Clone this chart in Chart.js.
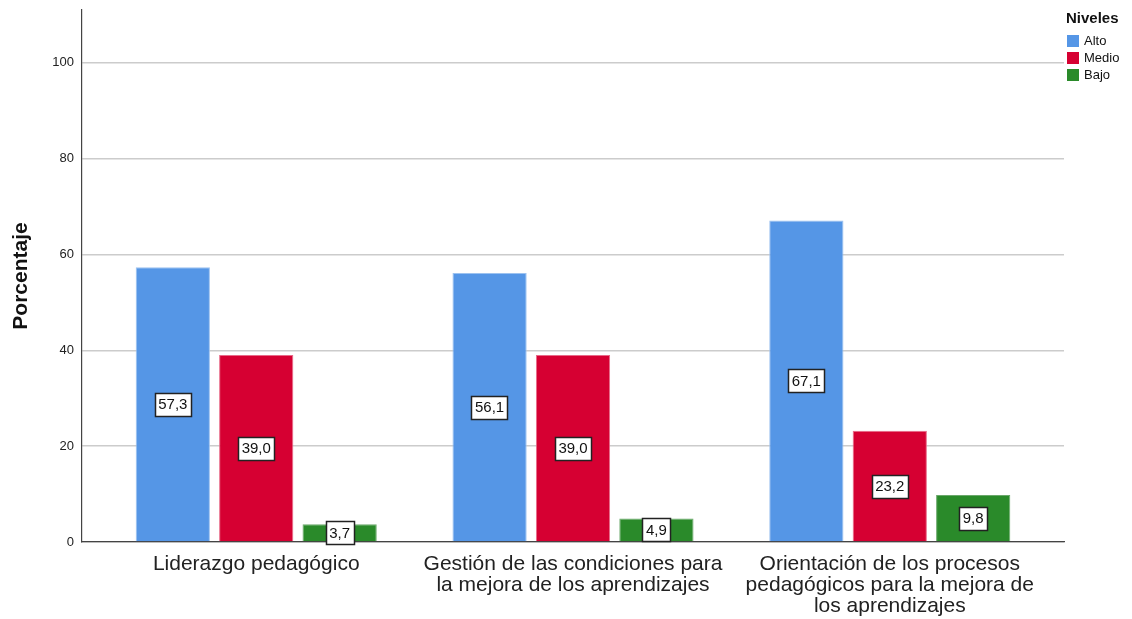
<!DOCTYPE html>
<html>
<head>
<meta charset="utf-8">
<script src="https://cdn.jsdelivr.net/npm/chart.js@4.4.1/dist/chart.umd.min.js"></script>
<style>
  html, body { margin: 0; padding: 0; background: #fff; }
  #wrap { position: relative; width: 1132px; height: 619px; }
  #legend { position: absolute; left: 1066px; top: 9px; font-family: "Liberation Sans", Arial, sans-serif; color: #111; }
  #legend .title { font-weight: bold; font-size: 15px; line-height: 18px; margin-bottom: 5px; }
  #legend .row { display: flex; align-items: center; font-size: 13px; height: 17px; }
  #legend .sw { width: 12px; height: 12px; margin-left: 1px; margin-right: 5px; }
</style>
</head>
<body>
<div id="wrap">
  <canvas id="c" width="1132" height="619"></canvas>
  <div id="legend"></div>
</div>
<script>
const categories = [
  ["Liderazgo pedagógico"],
  ["Gestión de las condiciones para", "la mejora de los aprendizajes"],
  ["Orientación de los procesos", "pedagógicos para la mejora de", "los aprendizajes"]
];
const seriesNames = ["Alto", "Medio", "Bajo"];
const alto  = [57.3, 56.1, 67.1];
const medio = [39.0, 39.0, 23.2];
const bajo  = [3.7, 4.9, 9.8];
const yTicks = [0, 20, 40, 60, 80, 100];
const legendTitle = "Niveles";
const yTitle = "Porcentaje";

const colors = ["#5596e6", "#d60032", "#2a8a2a"];
const borders = ["#9cc2f0", "#e86a88", "#6aa86a"];
const seriesValues = [alto, medio, bajo];

const FONT = '"Liberation Sans", Arial, sans-serif';

const datasets = seriesNames.map((name, i) => ({
  label: name,
  data: seriesValues[i].map((v, k) => ({ x: k, y: v })),
  backgroundColor: colors[i],
  borderColor: borders[i],
  borderWidth: 1,
  categoryPercentage: 0.79,
  barPercentage: 0.89
}));

const labelPlugin = {
  id: 'boxLabels',
  afterDatasetsDraw(chart) {
    const ctx = chart.ctx;
    ctx.save();
    ctx.font = '15px ' + FONT;
    ctx.textAlign = 'center';
    ctx.textBaseline = 'middle';
    chart.data.datasets.forEach((ds, di) => {
      const meta = chart.getDatasetMeta(di);
      meta.data.forEach((bar, k) => {
        const v = ds.data[k].y;
        const txt = v.toFixed(1).replace('.', ',');
        const cx = bar.x;
        const cy = (bar.y + bar.base) / 2;
        const w = ctx.measureText(txt).width + 7;
        const h = 23;
        ctx.fillStyle = '#fff';
        ctx.fillRect(Math.round(cx - w / 2) + 0.5, Math.round(cy - h / 2) + 0.5, Math.round(w), h);
        ctx.strokeStyle = '#222';
        ctx.lineWidth = 1.5;
        ctx.strokeRect(Math.round(cx - w / 2) + 0.5, Math.round(cy - h / 2) + 0.5, Math.round(w), h);
        ctx.fillStyle = '#111';
        ctx.fillText(txt, cx, cy + 1);
      });
    });
    ctx.restore();
  }
};

new Chart(document.getElementById('c'), {
  type: 'bar',
  data: { datasets },
  options: {
    responsive: false,
    animation: false,
    devicePixelRatio: 1,
    layout: { padding: { top: 10, right: 68, left: 0, bottom: 0 } },
    plugins: { legend: { display: false }, tooltip: { enabled: false } },
    scales: {
      x: {
        type: 'linear',
        offset: false,
        bounds: 'data',
        min: -0.55,
        max: 2.55,
        afterBuildTicks: (s) => { s.ticks = categories.map((c, k) => ({ value: k })); },
        afterFit: (s) => { s.height = 77; s.paddingLeft = 0; s.paddingRight = 0; },
        grid: { display: false, drawTicks: false, offset: false },
        border: { display: true, color: '#444', width: 1.2 },
        ticks: {
          callback: (v) => categories[v],
          font: { family: FONT, size: 21, lineHeight: 1.0 },
          color: '#222',
          padding: 12,
          maxRotation: 0,
          autoSkip: false
        }
      },
      y: {
        min: 0,
        max: 111,
        afterBuildTicks: (s) => { s.ticks = yTicks.map(v => ({ value: v })); },
        afterFit: (s) => { s.width = 82; s.paddingTop = 0; },
        grid: { color: '#cccccc', lineWidth: 1.5, drawTicks: false },
        border: { display: true, color: '#444', width: 1.2 },
        ticks: {
          font: { family: FONT, size: 13 },
          color: '#222',
          padding: 8
        },
        title: {
          display: true,
          text: yTitle,
          font: { family: FONT, size: 21, weight: 'bold' },
          color: '#111',
          padding: { top: 9, bottom: 0 }
        }
      }
    }
  },
  plugins: [labelPlugin]
});

const lg = document.getElementById('legend');
const t = document.createElement('div');
t.className = 'title';
t.textContent = legendTitle;
lg.appendChild(t);
seriesNames.forEach((n, i) => {
  const r = document.createElement('div');
  r.className = 'row';
  const sw = document.createElement('span');
  sw.className = 'sw';
  sw.style.background = colors[i];
  const tx = document.createElement('span');
  tx.textContent = n;
  r.appendChild(sw); r.appendChild(tx);
  lg.appendChild(r);
});
</script>
</body>
</html>
